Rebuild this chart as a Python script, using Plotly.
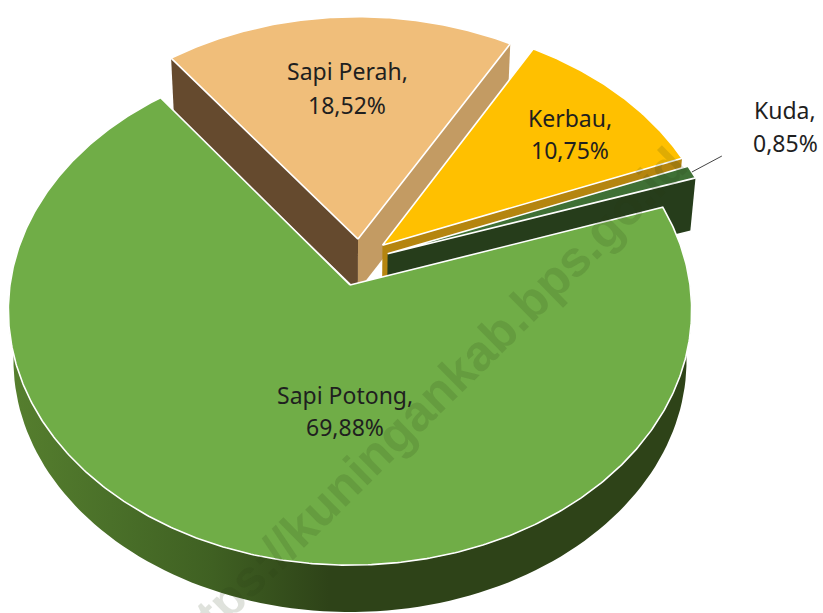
import numpy as np
import plotly.graph_objects as go

categories = ["Sapi Potong", "Sapi Perah", "Kerbau", "Kuda"]
shares = [69.88, 18.52, 10.75, 0.85]
share_labels = ["69,88%", "18,52%", "10,75%", "0,85%"]

top_colors = ["#70AD47", "#F0BE7A", "#FFC000", "#3F7035"]
face_left = [None, "#654A2E", None, None]
face_right = [None, "#C39B63", "#B5850F", "#263D1B"]
explode_u = [0.0, 0.024, 0.097, 0.112]
explode_v = [0.0, 0.185, 0.160, 0.125]
label_xy = [(345, 395, 427), (347, 71, 105), (570, 118, 150), (785, 110, 143)]

START = 71.5
CX, CY, RX, RY, K = 350, 285, 340, 252.7, 0.098
SHRINK, DEPTH = 0.985, 51


def project(u, v, bottom=False):
    d = 1 + K * v
    s = SHRINK if bottom else 1.0
    return CX + RX * u / d * s, CY - RY * v / d * s + (DEPTH if bottom else 0)


def rim(a0, a1, du, dv, bottom=False, n=120):
    t = np.radians(np.linspace(a0, a1, n))
    return project(np.sin(t) + du, np.cos(t) + dv, bottom)


def poly(x, y, color=None, line=None, gradient=None):
    kw = dict(x=list(x), y=list(y), mode="lines", fill="toself",
              hoverinfo="skip", showlegend=False)
    if line:
        kw["line"] = dict(color=line, width=1.6)
    else:
        kw["line"] = dict(width=0)
    if gradient:
        kw["fillgradient"] = gradient
    else:
        kw["fillcolor"] = color
    return go.Scatter(**kw)


def face(angle, du, dv, color):
    t = np.radians(angle)
    outer = (np.sin(t) + du, np.cos(t) + dv)
    x0, y0 = project(du, dv)
    x1, y1 = project(*outer)
    x2, y2 = project(*outer, bottom=True)
    x3, y3 = project(du, dv, bottom=True)
    return poly([x0, x1, x2, x3, x0], [y0, y1, y2, y3, y0], color)


spans = np.array(shares) / sum(shares) * 360
starts = START + np.concatenate([[0], np.cumsum(spans)[:-1]])
ends = starts + spans

fig = go.Figure()

for i in [1, 2, 3, 0]:
    a0, a1, du, dv = starts[i], ends[i], explode_u[i], explode_v[i]
    if i == 0:
        xt, yt = rim(82, 278, du, dv)
        xb, yb = rim(82, 278, du, dv, bottom=True)
        fig.add_trace(poly(np.r_[xt, xb[::-1]], np.r_[yt, yb[::-1]], gradient=dict(
            type="horizontal",
            colorscale=[[0, "#567F2E"], [0.15, "#4A7029"], [0.3, "#3F6022"],
                        [0.47, "#2E4318"], [1, "#2E4318"]])))
    if face_left[i]:
        fig.add_trace(face(a0, du, dv, face_left[i]))
    if face_right[i]:
        fig.add_trace(face(a1, du, dv, face_right[i]))
    xa, ya = rim(a0, a1, du, dv, n=max(8, int(spans[i] * 2)))
    px, py = project(du, dv)
    fig.add_trace(poly(np.r_[px, xa, px], np.r_[py, ya, py], top_colors[i], line="#FFFFFF"))

# leader line of the smallest slice
t = np.radians((starts[3] + ends[3]) / 2)
lx, ly = project(np.sin(t) + explode_u[3], np.cos(t) + explode_v[3])
fig.add_trace(go.Scatter(x=[lx, lx + 30], y=[ly, ly - 16], mode="lines",
                         line=dict(color="#444444", width=1),
                         hoverinfo="skip", showlegend=False))

annotations = [dict(x=424, y=406, xref="x", yref="y", xanchor="center", yanchor="middle",
                    text="<b>https://kuningankab.bps.go.id</b>", textangle=-44.5, showarrow=False,
                    font=dict(family="Liberation Sans", size=50, color="rgba(40,60,20,0.15)"))]
for cat, lab, (x, y1, y2) in zip(categories, share_labels, label_xy):
    for txt, y in ((cat + ",", y1), (lab, y2)):
        annotations.append(dict(x=x, y=y, xref="x", yref="y", xanchor="center", yanchor="middle",
                                text=txt, showarrow=False,
                                font=dict(family="Noto Sans", size=23, color="#1F1F1F")))

fig.update_layout(
    width=823, height=613, autosize=False,
    margin=dict(l=0, r=0, t=0, b=0),
    paper_bgcolor="white", plot_bgcolor="white", showlegend=False,
    xaxis=dict(range=[0, 823], visible=False, fixedrange=True),
    yaxis=dict(range=[613, 0], visible=False, fixedrange=True),
    annotations=annotations,
)
fig.write_html("out.html", config=dict(displayModeBar=False),
               post_script="document.body.style.margin='0';document.documentElement.style.overflow='hidden';")
